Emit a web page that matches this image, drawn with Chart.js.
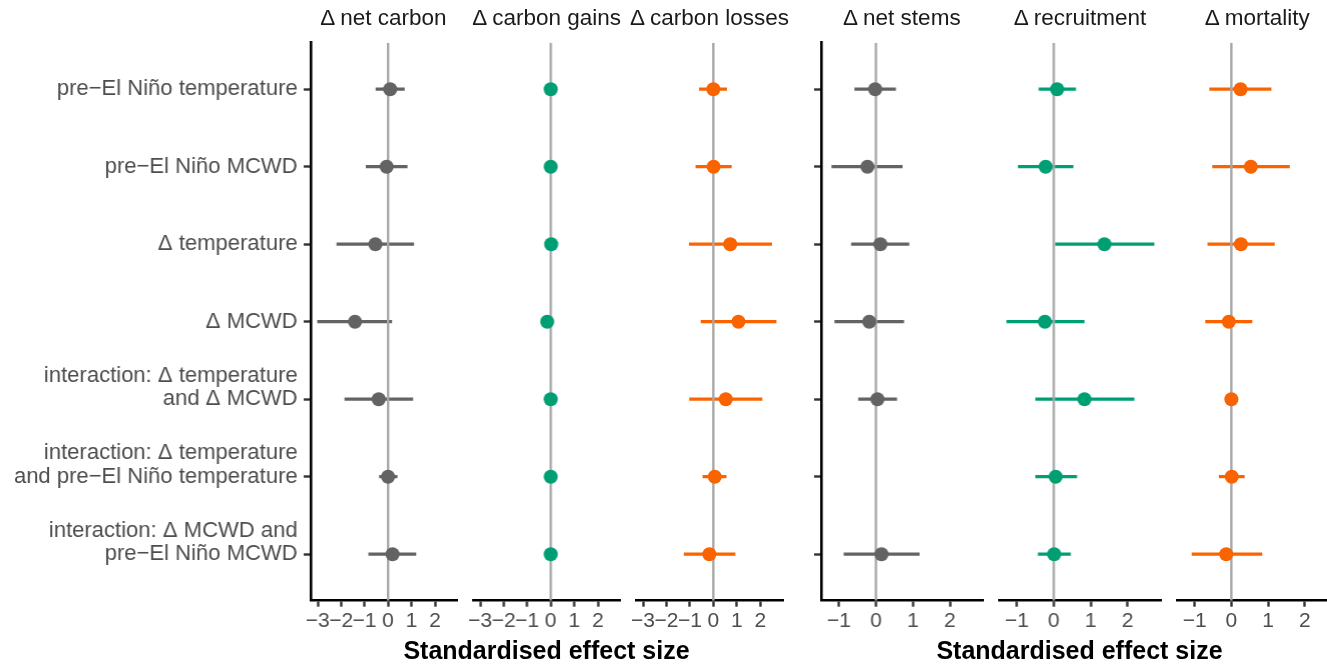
<!DOCTYPE html>
<html>
<head>
<meta charset="utf-8">
<script src="https://cdn.jsdelivr.net/npm/chart.js@4.4.1/dist/chart.umd.min.js"></script>
<style>
  html, body { margin: 0; padding: 0; background: #fff; }
  body { width: 1327px; height: 665px; position: relative; overflow: hidden; font-family: "Liberation Sans", Arial, sans-serif; }
  .facet { position: absolute; top: 0; height: 640px; }
  .strip { position: absolute; top: 5px; font-size: 22.5px; color: #1a1a1a; white-space: nowrap; transform: translateX(-50%); }
  .xtitle { position: absolute; top: 636px; font-size: 25px; font-weight: bold; color: #000; white-space: nowrap; transform: translateX(-50%); }
</style>
</head>
<body>
<script>
// predictors, top to bottom
const rowLabels = [
  'pre\u2212El Niño temperature',
  'pre\u2212El Niño MCWD',
  'Δ temperature',
  'Δ MCWD',
  ['interaction: Δ temperature', 'and Δ MCWD'],
  ['interaction: Δ temperature', 'and pre\u2212El Niño temperature'],
  ['interaction: Δ MCWD and', 'pre\u2212El Niño MCWD']
];

// carbon facets
const netCarbonEst = [0.09, -0.06, -0.54, -1.41, -0.40, 0.00, 0.19];
const netCarbonLo  = [-0.53, -0.95, -2.20, -3.02, -1.86, -0.38, -0.84];
const netCarbonHi  = [0.71, 0.83, 1.11, 0.17, 1.07, 0.40, 1.20];

const carbonGainsEst = [0.00, 0.00, 0.02, -0.15, 0.00, 0.00, 0.00];
const carbonGainsLo  = [-0.03, -0.03, -0.02, -0.27, -0.03, -0.03, -0.03];
const carbonGainsHi  = [0.03, 0.03, 0.06, -0.04, 0.03, 0.03, 0.03];

const carbonLossesEst = [0.00, 0.01, 0.72, 1.07, 0.53, 0.06, -0.17];
const carbonLossesLo  = [-0.61, -0.76, -1.04, -0.54, -1.03, -0.46, -1.26];
const carbonLossesHi  = [0.58, 0.78, 2.50, 2.69, 2.09, 0.56, 0.94];

// stem facets
const netStemsEst = [-0.02, -0.23, 0.12, -0.18, 0.04, null, 0.15];
const netStemsLo  = [-0.58, -1.20, -0.67, -1.12, -0.48, null, -0.87];
const netStemsHi  = [0.54, 0.72, 0.90, 0.76, 0.57, null, 1.18];

const recruitmentEst = [0.09, -0.22, 1.37, -0.24, 0.83, 0.05, 0.01];
const recruitmentLo  = [-0.41, -0.97, 0.04, -1.28, -0.50, -0.50, -0.43];
const recruitmentHi  = [0.60, 0.53, 2.72, 0.83, 2.18, 0.63, 0.46];

const mortalityEst = [0.25, 0.53, 0.26, -0.07, 0.00, 0.01, -0.14];
const mortalityLo  = [-0.60, -0.52, -0.65, -0.71, -0.03, -0.34, -1.08];
const mortalityHi  = [1.09, 1.59, 1.18, 0.57, 0.03, 0.36, 0.84];

const carbonRange = [-3.3, 2.97];
const stemsRange = [-1.48, 2.91];

const GREY = '#636363';
const GREEN = '#009E73';
const ORANGE = '#FA6400';

Chart.defaults.font.family = '"Liberation Sans", Arial, sans-serif';
Chart.defaults.animation = false;

const facets = [
  { title: 'Δ net carbon',    est: netCarbonEst,    lo: netCarbonLo,    hi: netCarbonHi,    color: GREY,   range: carbonRange, left: 310,    right: 456.7, yAxis: 'labels' },
  { title: 'Δ carbon gains',  est: carbonGainsEst,  lo: carbonGainsLo,  hi: carbonGainsHi,  color: GREEN,  range: carbonRange, left: 473.3,  right: 620 },
  { title: 'Δ carbon losses', est: carbonLossesEst, lo: carbonLossesLo, hi: carbonLossesHi, color: ORANGE, range: carbonRange, left: 636,    right: 783 },
  { title: 'Δ net stems',     est: netStemsEst,     lo: netStemsLo,     hi: netStemsHi,     color: GREY,   range: stemsRange,  left: 821,    right: 982.7, yAxis: 'ticks' },
  { title: 'Δ recruitment',   est: recruitmentEst,  lo: recruitmentLo,  hi: recruitmentHi,  color: GREEN,  range: stemsRange,  left: 999.3,  right: 1160.7 },
  { title: 'Δ mortality',     est: mortalityEst,    lo: mortalityLo,    hi: mortalityHi,    color: ORANGE, range: stemsRange,  left: 1176.7, right: 1338 }
];

const PLOT_TOP = 42.7;
const X_AXIS_H = 39.3;
const PAD = 16;
const yMin = 0.4, yMax = rowLabels.length + 0.6;

function minusLabel(v) {
  return v < 0 ? '\u2212' + Math.abs(v) : String(v);
}

function buildFacet(f) {
  const yW = f.yAxis === 'labels' ? f.left : (f.yAxis === 'ticks' ? 12 : 0);
  const padL = f.yAxis === 'labels' ? 0 : PAD;
  const boxLeft = f.left - yW - padL;
  const boxW = f.right + PAD - boxLeft;

  const div = document.createElement('div');
  div.className = 'facet';
  div.style.left = boxLeft + 'px';
  div.style.width = boxW + 'px';
  const canvas = document.createElement('canvas');
  div.appendChild(canvas);
  document.body.appendChild(div);

  const strip = document.createElement('div');
  strip.className = 'strip';
  strip.textContent = f.title;
  strip.style.left = ((f.left + f.right) / 2) + 'px';
  document.body.appendChild(strip);

  const datasets = [];
  // points on top
  datasets.push({
    data: f.est.map((v, i) => v === null ? null : { x: v, y: i + 1 }).filter(d => d),
    backgroundColor: f.color,
    borderWidth: 0,
    pointRadius: 7,
    order: 0
  });
  // zero reference line
  datasets.push({
    data: [{ x: 0, y: yMin }, { x: 0, y: yMax }],
    showLine: true,
    borderColor: '#A8A8A8',
    borderWidth: 2.4,
    pointRadius: 0,
    order: 1
  });
  // error bars
  f.lo.forEach((lo, i) => {
    if (lo === null) return;
    datasets.push({
      data: [{ x: lo, y: i + 1 }, { x: f.hi[i], y: i + 1 }],
      showLine: true,
      borderColor: f.color,
      borderWidth: 3.2,
      pointRadius: 0,
      order: 2
    });
  });

  new Chart(canvas, {
    type: 'scatter',
    data: { datasets },
    options: {
      responsive: true,
      maintainAspectRatio: false,
      layout: { padding: { top: PLOT_TOP, bottom: 0, left: padL, right: PAD } },
      plugins: { legend: { display: false }, tooltip: { enabled: false } },
      scales: {
        x: {
          type: 'linear',
          min: f.range[0],
          max: f.range[1],
          afterFit: s => { s.height = X_AXIS_H; },
          border: { display: true, color: '#000', width: 2.6 },
          grid: { display: true, drawOnChartArea: false, drawTicks: true, tickLength: 6, tickWidth: 2.4, tickColor: '#333' },
          ticks: {
            stepSize: 1,
            includeBounds: false,
            autoSkip: false,
            maxRotation: 0,
            padding: 2,
            color: '#4D4D4D',
            font: { size: 21 },
            callback: v => minusLabel(v)
          }
        },
        y: {
          type: 'linear',
          display: !!f.yAxis,
          reverse: true,
          min: yMin,
          max: yMax,
          afterFit: s => { s.width = yW; },
          afterBuildTicks: s => { s.ticks = rowLabels.map((_, i) => ({ value: i + 1 })); },
          border: { display: true, color: '#000', width: 2.6 },
          grid: { display: true, drawOnChartArea: false, drawTicks: true, tickLength: 7, tickWidth: 2.4, tickColor: '#333' },
          ticks: {
            display: f.yAxis === 'labels',
            autoSkip: false,
            padding: 6,
            color: '#4D4D4D',
            font: { size: 22, lineHeight: 1.06 },
            callback: v => {
              const l = rowLabels[v - 1];
              // ggplot keeps two-line labels sitting above the tick
              return Array.isArray(l) ? [...l, ''] : l;
            }
          }
        }
      }
    }
  });
}

facets.forEach(buildFacet);

[[310, 783], [821, 1338]].forEach(([a, b]) => {
  const t = document.createElement('div');
  t.className = 'xtitle';
  t.textContent = 'Standardised effect size';
  t.style.left = ((a + b) / 2) + 'px';
  document.body.appendChild(t);
});
</script>
</body>
</html>
